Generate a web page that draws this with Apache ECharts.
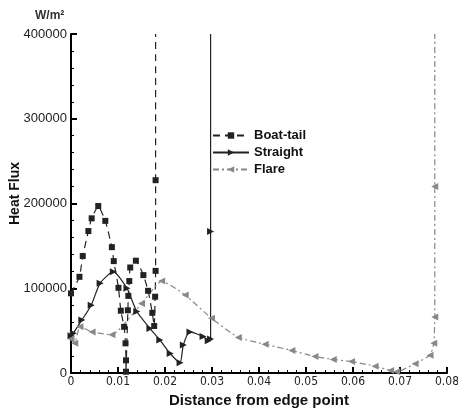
<!DOCTYPE html>
<html>
<head>
<meta charset="utf-8">
<script src="https://cdn.jsdelivr.net/npm/echarts@6/dist/echarts.min.js"></script>
<style>
html,body{margin:0;padding:0;background:#fff;}
#chart{width:458px;height:411px;}
</style>
</head>
<body>
<div id="chart"></div>
<script>
// data (x in m, y in W/m2)
var boatX = [0, 0.0018, 0.0025, 0.0037, 0.0044, 0.0058, 0.0073, 0.0087, 0.0091, 0.0101, 0.0106, 0.0113, 0.0116, 0.0117, 0.0117, 0.0121, 0.0122, 0.0124, 0.0126, 0.0138, 0.0154, 0.0164, 0.0173, 0.0177, 0.0179, 0.018, 0.018, 0.018];
var boatY = [94000, 113500, 138000, 167500, 182500, 197000, 179500, 148500, 132000, 100500, 73500, 54500, 35000, 15000, 1500, 74000, 91000, 108500, 124500, 132500, 115500, 97000, 71000, 55500, 90000, 120500, 227500, 400000];

var straightX = [0, 0.0005, 0.0023, 0.0043, 0.0062, 0.009, 0.0119, 0.014, 0.0168, 0.0189, 0.0211, 0.0232, 0.0239, 0.0253, 0.0281, 0.0292, 0.0297, 0.0297, 0.0297];
var straightY = [44000, 47000, 62500, 80000, 106000, 119500, 100000, 72500, 52500, 39000, 23000, 12000, 33000, 48500, 43000, 38000, 40000, 167000, 400000];

var flareX = [0, 0.0008, 0.0019, 0.0045, 0.0087, 0.015, 0.0193, 0.0243, 0.0299, 0.0356, 0.0413, 0.047, 0.0519, 0.0558, 0.0597, 0.0647, 0.068, 0.0693, 0.0732, 0.0764, 0.0772, 0.0774, 0.0774, 0.0774];
var flareY = [40000, 35000, 54500, 48500, 45000, 82000, 108500, 92000, 64500, 42000, 34000, 26500, 19500, 16000, 13500, 8000, 3000, 1500, 11000, 21000, 35000, 66000, 220000, 400000];

var seriesNames = ['Boat-tail', 'Straight', 'Flare'];
var xTicks = [0, 0.01, 0.02, 0.03, 0.04, 0.05, 0.06, 0.07, 0.08];

// last point runs off the top: no marker there
function pairs(xs, ys){
	var out = [];
	for(var i = 0; i < xs.length; i++){
		if(i == xs.length - 1) out.push({value: [xs[i], ys[i]], symbol: 'none'});
		else out.push([xs[i], ys[i]]);
	}
	return out;
}

var chart = echarts.init(document.getElementById('chart'));
var font = "'Liberation Sans', Arial, sans-serif";
var option = {
	backgroundColor: '#fff',
	animation: false,
	title: {
		text: 'W/m²', left: 30, top: 5,
		textStyle: {fontSize: 12, fontWeight: 'bold', color: '#333', fontFamily: font}
	},
	// rotated y title sits close to the tick labels, as in the picture
	graphic: [{
		type: 'text', left: 8, top: 162, rotation: Math.PI / 2,
		style: {text: 'Heat Flux', fontSize: 14, fontWeight: 'bold', fill: '#111', fontFamily: font}
	}],
	legend: {
		left: 207, top: 124, orient: 'vertical',
		itemWidth: 36, itemHeight: 8, itemGap: 4,
		data: seriesNames,
		textStyle: {fontSize: 13, fontWeight: 'bold', color: '#111', fontFamily: font}
	},
	grid: {left: 71, right: 11, top: 34, bottom: 38, containLabel: false, outerBoundsMode: 'none'},
	xAxis: {
		type: 'value', min: 0, max: 0.08, interval: 0.01,
		name: 'Distance from edge point', nameLocation: 'middle', nameGap: 17,
		nameTextStyle: {fontSize: 15, fontWeight: 'bold', color: '#111', fontFamily: font},
		axisLine: {lineStyle: {color: '#000', width: 2}},
		axisTick: {inside: true, length: 6, lineStyle: {color: '#000', width: 2}},
		minorTick: {show: true, splitNumber: 5, length: 3, lineStyle: {color: '#000'}},
		splitLine: {show: false},
		axisLabel: {
			margin: 3, fontSize: 12, color: '#222', fontFamily: "'Liberation Sans Narrow', 'DejaVu Sans Condensed', Arial",
			formatter: function(v){
				for(var i = 0; i < xTicks.length; i++){
					if(Math.abs(xTicks[i] - v) < 1e-9) return String(xTicks[i]);
				}
				return '';
			}
		}
	},
	yAxis: {
		type: 'value', min: 0, max: 400000, interval: 100000,
		axisLine: {show: true, lineStyle: {color: '#000', width: 2}},
		axisTick: {show: true, inside: true, length: 6, lineStyle: {color: '#000', width: 2}},
		minorTick: {show: true, splitNumber: 5, length: 3, lineStyle: {color: '#000'}},
		splitLine: {show: false},
		axisLabel: {
			margin: 4, fontSize: 13, color: '#222', fontFamily: font,
			formatter: function(v){ return String(v); }
		}
	},
	series: [
		{
			name: seriesNames[0], type: 'line', data: pairs(boatX, boatY),
			symbol: 'rect', symbolSize: 6, smooth: 0.15,
			lineStyle: {color: '#222', width: 1.2, type: [7, 5]},
			itemStyle: {color: '#222'}
		},
		{
			name: seriesNames[1], type: 'line', data: pairs(straightX, straightY),
			symbol: 'triangle', symbolRotate: -90, symbolSize: 7, smooth: 0.2,
			lineStyle: {color: '#222', width: 1.2},
			itemStyle: {color: '#222'}
		},
		{
			name: seriesNames[2], type: 'line', data: pairs(flareX, flareY),
			symbol: 'triangle', symbolRotate: 90, symbolSize: 7, smooth: 0.15,
			lineStyle: {color: '#888', width: 1.2, type: [6, 3, 2, 3]},
			itemStyle: {color: '#888'}
		}
	]
};
chart.setOption(option);
</script>
</body>
</html>
